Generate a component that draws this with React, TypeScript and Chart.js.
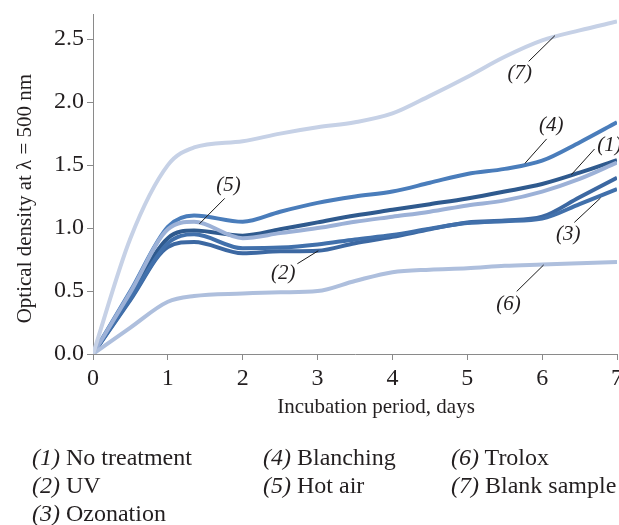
import React, { useEffect, useRef } from "react";
import { Chart, registerables } from "chart.js";

Chart.register(...registerables);

// ---- data ----
const days = [0, 0.5, 1, 1.35, 2, 2.5, 3, 3.5, 4, 4.5, 5, 5.5, 6, 6.5, 7];
const noTreatment = [0, 0.46, 0.92, 0.98, 0.94, 0.99, 1.045, 1.1, 1.145, 1.19, 1.235, 1.29, 1.35, 1.44, 1.54];
const uv = [0, 0.43, 0.85, 0.89, 0.8, 0.815, 0.82, 0.88, 0.93, 0.99, 1.045, 1.06, 1.09, 1.245, 1.4];
const ozonation = [0, 0.44, 0.88, 0.95, 0.84, 0.845, 0.87, 0.91, 0.945, 0.995, 1.04, 1.055, 1.075, 1.19, 1.31];
const blanching = [0, 0.5, 1.01, 1.1, 1.05, 1.13, 1.2, 1.25, 1.29, 1.36, 1.43, 1.47, 1.535, 1.68, 1.84];
const hotAir = [0, 0.49, 0.99, 1.05, 0.92, 0.96, 1.0, 1.05, 1.09, 1.13, 1.18, 1.22, 1.29, 1.39, 1.52];
const trolox = [0, 0.21, 0.415, 0.46, 0.48, 0.49, 0.5, 0.58, 0.65, 0.67, 0.68, 0.7, 0.71, 0.72, 0.73];
const blank = [0, 0.92, 1.5, 1.64, 1.69, 1.75, 1.8, 1.84, 1.91, 2.05, 2.2, 2.36, 2.49, 2.57, 2.64];

const xTickValues = [0, 1, 2, 3, 4, 5, 6, 7];
const yTickValues = [0, 0.5, 1.0, 1.5, 2.0, 2.5];

const seriesNumbers = ["(1)", "(2)", "(3)", "(4)", "(5)", "(6)", "(7)"];
const seriesNames = ["No treatment", "UV", "Ozonation", "Blanching", "Hot air", "Trolox", "Blank sample"];

const yTitle = "Optical density at \u03bb = 500 nm";
const xTitle = "Incubation period, days";

// callouts: label position and leader line, in data units
const callouts = [
  { text: "(5)", lx: 1.81, ly: 1.34, x1: 1.76, y1: 1.236, x2: 1.42, y2: 1.033 },
  { text: "(2)", lx: 2.54, ly: 0.64, x1: 2.73, y1: 0.717, x2: 3.01, y2: 0.82 },
  { text: "(7)", lx: 5.7, ly: 2.224, x1: 5.82, y1: 2.324, x2: 6.17, y2: 2.528 },
  { text: "(4)", lx: 6.12, ly: 1.815, x1: 6.06, y1: 1.708, x2: 5.77, y2: 1.514 },
  { text: "(1)", lx: 6.9, ly: 1.655, x1: 6.7, y1: 1.628, x2: 6.39, y2: 1.424 },
  { text: "(3)", lx: 6.35, ly: 0.953, x1: 6.43, y1: 1.045, x2: 6.78, y2: 1.239 },
  { text: "(6)", lx: 5.55, ly: 0.397, x1: 5.66, y1: 0.497, x2: 6.02, y2: 0.707 },
];

const SERIF = '"Liberation Serif", "Times New Roman", serif';
const AXIS = "#8a8a8a";
const TEXT = "#231f20";

const colors = ["#2f5a8e", "#3c68a2", "#4170ab", "#4a7dbb", "#9cb1d7", "#aebfdd", "#c6d1e6"];
const seriesValues = [noTreatment, uv, ozonation, blanching, hotAir, trolox, blank];

const annotationPlugin = {
  id: "annotations",
  afterDraw(chart: any) {
    const { ctx, chartArea, scales } = chart;
    const xs = scales.x;
    const ys = scales.y;
    ctx.save();
    ctx.strokeStyle = "#1a1a1a";
    ctx.lineWidth = 1;
    ctx.fillStyle = TEXT;
    ctx.font = `italic 21px ${SERIF}`;
    ctx.textAlign = "center";
    ctx.textBaseline = "middle";
    for (const c of callouts) {
      ctx.beginPath();
      ctx.moveTo(xs.getPixelForValue(c.x1), ys.getPixelForValue(c.y1));
      ctx.lineTo(xs.getPixelForValue(c.x2), ys.getPixelForValue(c.y2));
      ctx.stroke();
      ctx.fillText(c.text, xs.getPixelForValue(c.lx), ys.getPixelForValue(c.ly));
    }
    ctx.font = `21px ${SERIF}`;
    const midY = (ys.getPixelForValue(0) + ys.getPixelForValue(2.5)) / 2 + 2;
    ctx.save();
    ctx.translate(chartArea.left - 68, midY);
    ctx.rotate(-Math.PI / 2);
    ctx.fillText(yTitle, 0, 0);
    ctx.restore();
    ctx.fillText(xTitle, chartArea.left + 283, chartArea.bottom + 53);
    ctx.restore();
  },
};

export default function App() {
  const ref = useRef<HTMLCanvasElement | null>(null);

  useEffect(() => {
    if (!ref.current) return;
    const datasets = seriesValues.map((vals, i) => ({
      label: seriesNames[i],
      data: days.map((d, k) => ({ x: d, y: vals[k] })),
      borderColor: colors[i],
      backgroundColor: colors[i],
      borderWidth: 4,
      pointRadius: 0,
      fill: false,
      cubicInterpolationMode: "monotone" as const,
      order: 7 - i,
    }));
    const chart = new Chart(ref.current, {
      type: "line",
      data: { datasets },
      plugins: [annotationPlugin],
      options: {
        responsive: false,
        animation: false,
        devicePixelRatio: 1,
        layout: { padding: { top: 6, right: 31, bottom: 24, left: 0 } },
        plugins: { legend: { display: false }, tooltip: { enabled: false } },
        scales: {
          x: {
            type: "linear",
            min: 0,
            max: 7,
            afterBuildTicks(s: any) {
              s.ticks = xTickValues.map((v) => ({ value: v }));
            },
            ticks: {
              font: { family: SERIF, size: 24 },
              color: TEXT,
              padding: 4,
              maxRotation: 0,
              autoSkip: false,
            },
            grid: { drawOnChartArea: false, drawTicks: true, tickLength: 6, color: AXIS },
            border: { display: true, color: AXIS, width: 1 },
            afterFit(s: any) {
              s.height = 50;
              s.paddingLeft = 0;
              s.paddingRight = 0;
            },
          },
          y: {
            type: "linear",
            min: 0,
            max: 2.7,
            afterBuildTicks(s: any) {
              s.ticks = yTickValues.map((v) => ({ value: v }));
            },
            ticks: {
              font: { family: SERIF, size: 24 },
              color: TEXT,
              padding: 3,
              callback: (v: any) => Number(v).toFixed(1),
            },
            grid: { drawOnChartArea: false, drawTicks: true, tickLength: 6, color: AXIS },
            border: { display: true, color: AXIS, width: 1 },
            afterFit(s: any) {
              s.width = 85;
              s.paddingTop = 0;
              s.paddingBottom = 0;
            },
          },
        },
      },
    });
    return () => chart.destroy();
  }, []);

  const columns = [
    [0, 1, 2],
    [3, 4],
    [5, 6],
  ];
  const colLeft = [32, 263, 451];

  return (
    <div style={{ position: "fixed", left: 0, top: 0, width: 619, height: 525, overflow: "hidden" }}>
      <canvas ref={ref} width={640} height={420} style={{ position: "absolute", left: 8, top: 8, display: "block" }} />
      {columns.map((col, ci) =>
        col.map((si, ri) => (
          <div
            key={si}
            style={{
              position: "absolute",
              left: colLeft[ci],
              top: 443 + ri * 28,
              fontFamily: SERIF,
              fontSize: 24,
              lineHeight: "28px",
              color: TEXT,
              whiteSpace: "nowrap",
            }}
          >
            <i>{seriesNumbers[si]}</i> {seriesNames[si]}
          </div>
        ))
      )}
    </div>
  );
}
